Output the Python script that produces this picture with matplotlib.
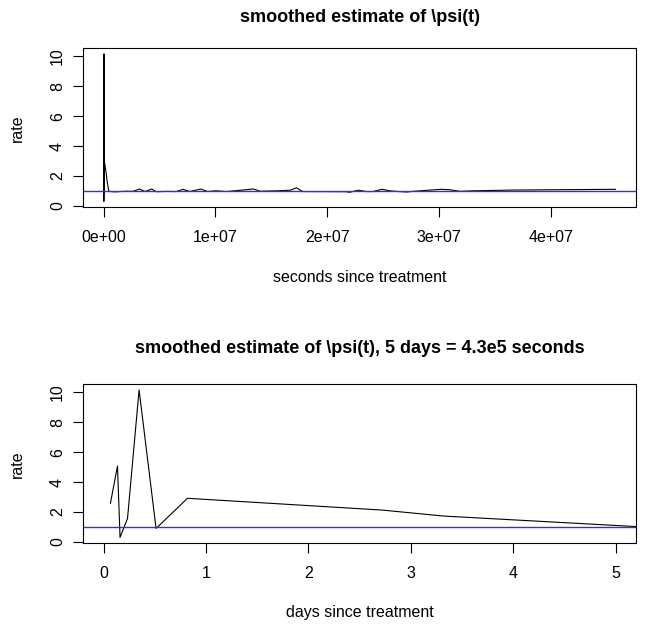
import numpy as np
import matplotlib
matplotlib.use("Agg")
import matplotlib.pyplot as plt

# Smoothed rate estimate psi(t)
t_seconds = [5616, 11578, 13738, 20045, 29808, 44150, 70675, 235008, 286848, 462240,
             1.0e6, 2.0e6, 2.6e6, 3.2e6, 3.7e6, 4.3e6, 4.7e6, 5.6e6, 6.5e6, 7.1e6,
             7.7e6, 8.7e6, 9.3e6, 1.0e7, 1.1e7, 1.34e7, 1.4e7, 1.55e7, 1.67e7, 1.725e7,
             1.78e7, 2.17e7, 2.2e7, 2.28e7, 2.35e7, 2.41e7, 2.49e7, 2.56e7, 2.62e7, 2.71e7,
             2.83e7, 3.02e7, 3.1e7, 3.19e7, 3.31e7, 3.66e7, 4.58e7]
rate = [2.57, 5.07, 0.29, 1.56, 10.17, 0.89, 2.91, 2.12, 1.72, 0.96,
        0.93, 0.97, 0.96, 1.12, 0.95, 1.12, 0.94, 0.96, 0.95, 1.1,
        0.95, 1.12, 0.95, 1.0, 0.95, 1.12, 0.97, 1.0, 1.04, 1.2,
        0.95, 0.94, 0.9, 1.04, 0.95, 0.95, 1.1, 1.0, 0.96, 0.92,
        1.0, 1.1, 1.07, 0.96, 1.0, 1.05, 1.1]

sec_ticks = [0, 1e7, 2e7, 3e7, 4e7]
sec_labels = ["0e+00", "1e+07", "2e+07", "3e+07", "4e+07"]
day_ticks = [0, 1, 2, 3, 4, 5]
rate_ticks = [0, 2, 4, 6, 8, 10]
ref_level = 1.0
SECONDS_PER_DAY = 86400.0

plt.rcParams['font.family'] = ['Liberation Sans', 'DejaVu Sans']

W, H = 649, 624
fig = plt.figure(figsize=(W / 100, H / 100), dpi=100)


def r_lim(lo, hi):
    # R style 4% axis extension
    d = hi - lo
    return lo - 0.04 * d, hi + 0.04 * d


def style(ax):
    for s in ax.spines.values():
        s.set_linewidth(0.8)
        s.set_color('black')
    ax.tick_params(axis='both', length=7.2, width=0.8, labelsize=11.5, colors='black')
    ax.tick_params(axis='x', pad=9)
    ax.tick_params(axis='y', pad=6)
    ax.set_yticks(rate_ticks)
    ax.set_yticklabels([str(v) for v in rate_ticks], rotation=90, va='center')


def frac_box(left, top, right, bottom):
    return [left / W, 1 - bottom / H, (right - left) / W, (bottom - top) / H]


t = np.array(t_seconds)
y = np.array(rate)
ylim = r_lim(y.min(), y.max())

# top panel: full range in seconds
ax1 = fig.add_axes(frac_box(83.3, 48, 636, 207.3))
ax1.plot(t, y, color='black', linewidth=0.8)
ax1.axhline(ref_level, color='#2b2bff', linewidth=1.0)
ax1.set_xlim(*r_lim(t.min(), t.max()))
ax1.set_ylim(*ylim)
ax1.set_xticks(sec_ticks)
ax1.set_xticklabels(sec_labels)
style(ax1)

# bottom panel: first five days
ax2 = fig.add_axes(frac_box(83.3, 384, 636, 543.3))
ax2.plot(t / SECONDS_PER_DAY, y, color='black', linewidth=0.8)
ax2.axhline(ref_level, color='#2b2bff', linewidth=1.0)
ax2.set_xlim(*r_lim(0, 5))
ax2.set_ylim(*ylim)
ax2.set_xticks(day_ticks)
ax2.set_xticklabels([str(v) for v in day_ticks])
style(ax2)

cx = (83.3 + 636) / 2 / W
fig.text(cx, 1 - 17.5 / H, r"smoothed estimate of \psi(t)", ha='center', va='center',
         fontsize=13, fontweight='bold')
fig.text(cx, 1 - 277 / H, "seconds since treatment", ha='center', va='center', fontsize=11.5)
fig.text(17 / W, 1 - 127.7 / H, "rate", ha='center', va='center', rotation=90, fontsize=11.5)

fig.text(cx, 1 - 348.5 / H, r"smoothed estimate of \psi(t), 5 days = 4.3e5 seconds",
         ha='center', va='center', fontsize=13, fontweight='bold')
fig.text(cx, 1 - 612 / H, "days since treatment", ha='center', va='center', fontsize=11.5)
fig.text(17 / W, 1 - 463.7 / H, "rate", ha='center', va='center', rotation=90, fontsize=11.5)

fig.savefig("out.png", dpi=100)
plt.close(fig)
